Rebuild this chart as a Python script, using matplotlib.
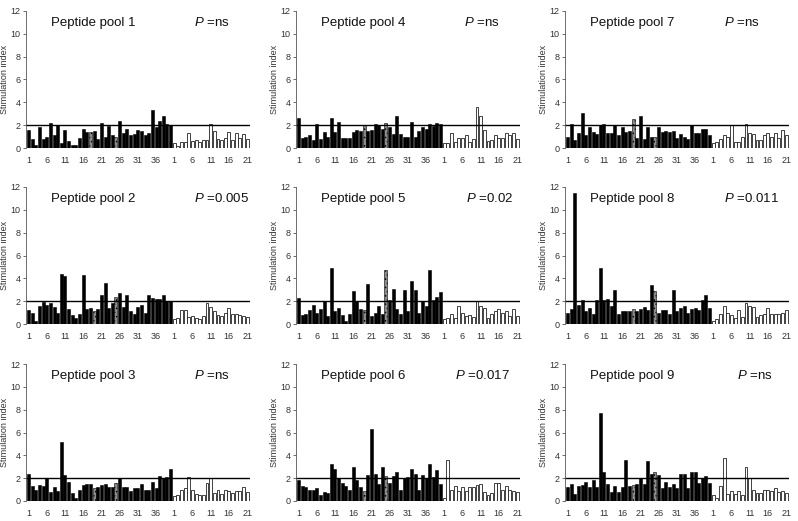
import matplotlib
matplotlib.use("Agg")
import matplotlib.pyplot as plt
import numpy as np

plt.rcParams['font.family'] = ['Liberation Sans', 'DejaVu Sans']
plt.rcParams['mathtext.fontset'] = 'custom'
plt.rcParams['mathtext.it'] = 'Liberation Sans:italic'
plt.rcParams['hatch.color'] = '#333333'
plt.rcParams['hatch.linewidth'] = 0.6

titles = ["Peptide pool 1", "Peptide pool 2", "Peptide pool 3",
          "Peptide pool 4", "Peptide pool 5", "Peptide pool 6",
          "Peptide pool 7", "Peptide pool 8", "Peptide pool 9"]
pvalues = ["ns", "0.005", "ns", "ns", "0.02", "0.017", "ns", "0.011", "ns"]
p_xpos = [0.75, 0.75, 0.75, 0.75, 0.76, 0.71, 0.71, 0.71, 0.77]

pool1_black = [1.6, 0.8, 0.3, 1.8, 0.8, 1.0, 2.2, 1.1, 2.0, 0.4, 1.6, 0.6, 0.3, 0.3, 0.9, 1.7, 1.4, 1.4, 1.5, 0.8,
               2.2, 1.0, 1.9, 1.1, 1.0, 2.4, 1.3, 1.7, 1.1, 1.2, 1.6, 1.5, 1.1, 1.3, 3.3, 1.8, 2.4, 2.8, 2.1, 2.0]
pool1_white = [0.4, 0.2, 0.5, 0.5, 1.3, 0.6, 0.7, 0.5, 0.7, 0.7, 2.1, 1.5, 0.8, 0.7, 0.9, 1.4, 0.7, 1.3, 0.9, 1.2, 0.8]
pool1_grey = [18, 25]

pool2_black = [1.2, 1.0, 0.3, 1.6, 1.9, 1.7, 1.8, 1.5, 1.0, 4.4, 4.2, 1.3, 0.8, 0.5, 0.9, 4.3, 1.3, 1.4, 1.1, 1.3,
               2.5, 3.6, 1.4, 1.8, 2.4, 2.7, 1.5, 2.5, 1.1, 0.9, 1.5, 1.7, 1.0, 2.5, 2.3, 2.2, 2.2, 2.5, 2.0, 2.0]
pool2_white = [0.4, 0.5, 1.2, 1.2, 0.6, 0.7, 0.5, 0.4, 0.7, 1.8, 1.5, 1.1, 0.8, 0.7, 1.0, 1.4, 0.9, 0.9, 0.8, 0.7, 0.6]
pool2_grey = [19, 25]

pool3_black = [2.4, 1.3, 1.0, 1.4, 1.3, 2.0, 0.8, 1.2, 0.9, 5.2, 2.3, 1.7, 0.7, 0.3, 1.0, 1.4, 1.5, 1.5, 1.1, 1.2,
               1.4, 1.5, 1.2, 1.2, 1.6, 2.0, 1.2, 1.2, 0.9, 1.1, 1.1, 1.5, 1.0, 1.0, 1.7, 1.1, 2.2, 2.0, 2.1, 2.8]
pool3_white = [0.4, 0.5, 1.0, 1.1, 2.1, 1.0, 0.6, 0.5, 0.5, 1.6, 2.0, 0.7, 1.0, 0.6, 1.0, 0.9, 0.7, 0.9, 0.9, 1.2, 0.8]
pool3_grey = [19, 25]

pool4_black = [2.6, 0.9, 1.0, 1.1, 0.7, 2.1, 0.8, 1.4, 1.0, 2.6, 1.4, 2.3, 0.9, 0.9, 0.9, 1.4, 1.6, 1.5, 2.0, 1.5,
               1.6, 2.1, 2.0, 1.7, 2.2, 1.8, 1.2, 2.8, 1.2, 1.0, 1.0, 2.3, 1.0, 1.5, 1.8, 1.7, 2.1, 1.9, 2.2, 2.1]
pool4_white = [0.4, 0.4, 1.3, 0.5, 0.9, 0.9, 1.1, 0.5, 0.8, 3.6, 2.8, 1.6, 0.6, 0.7, 1.1, 0.9, 0.9, 1.3, 1.1, 1.3, 0.8]
pool4_grey = [19, 25]

pool5_black = [2.3, 0.8, 0.9, 1.2, 1.7, 1.0, 1.3, 2.0, 0.7, 4.9, 1.1, 1.4, 0.8, 0.3, 0.9, 2.9, 2.0, 1.3, 1.2, 3.5,
               0.7, 1.0, 1.6, 0.9, 4.7, 2.1, 3.1, 1.3, 0.9, 3.0, 1.1, 3.8, 3.0, 1.0, 2.0, 1.6, 4.7, 2.1, 2.4, 2.8]
pool5_white = [0.4, 0.5, 0.9, 0.5, 1.6, 1.0, 0.7, 0.8, 0.6, 2.0, 1.6, 1.4, 0.5, 0.9, 1.1, 1.3, 1.0, 1.1, 0.7, 1.3, 0.7]
pool5_grey = [19, 25]

pool6_black = [1.8, 1.3, 1.2, 1.0, 1.0, 1.1, 0.5, 0.8, 0.7, 3.2, 2.8, 2.0, 1.6, 1.3, 1.0, 3.0, 1.8, 1.2, 0.9, 2.3,
               6.3, 2.4, 1.5, 3.0, 2.2, 1.6, 2.2, 2.5, 1.0, 2.0, 2.1, 2.8, 2.4, 1.0, 2.3, 2.0, 3.2, 2.1, 2.7, 1.5]
pool6_white = [0.3, 3.6, 1.0, 1.3, 0.9, 1.2, 0.9, 1.2, 1.2, 1.4, 1.5, 0.8, 0.5, 0.7, 1.6, 1.6, 1.0, 1.3, 1.0, 0.9, 0.8]
pool6_grey = [19, 25]

pool7_black = [1.0, 2.1, 0.7, 1.3, 3.1, 1.1, 1.8, 1.4, 1.2, 2.0, 2.1, 1.3, 1.3, 2.0, 1.1, 1.8, 1.4, 1.5, 2.5, 0.9,
               2.8, 0.8, 1.8, 1.0, 1.0, 1.8, 1.4, 1.5, 1.4, 1.5, 0.9, 1.2, 1.0, 0.8, 2.0, 1.3, 1.3, 1.7, 1.7, 1.1]
pool7_white = [0.4, 0.5, 0.8, 1.1, 1.0, 2.0, 0.5, 0.5, 1.0, 2.1, 1.3, 1.2, 0.7, 0.7, 1.1, 1.3, 1.0, 1.3, 0.9, 1.6, 1.1]
pool7_grey = [19, 25]

pool8_black = [1.0, 1.3, 11.5, 1.7, 2.1, 1.1, 1.4, 0.9, 2.1, 4.9, 2.1, 2.2, 1.6, 3.0, 0.9, 1.1, 1.1, 1.1, 1.3, 1.1,
               1.3, 1.5, 1.2, 3.4, 2.9, 1.0, 1.2, 1.2, 0.9, 3.0, 1.1, 1.4, 1.6, 1.0, 1.3, 1.4, 1.2, 2.1, 2.5, 1.4]
pool8_white = [0.3, 0.4, 0.9, 1.6, 1.0, 0.8, 0.5, 1.2, 0.6, 1.8, 1.6, 1.5, 0.6, 0.8, 0.9, 1.4, 0.9, 0.9, 0.9, 1.0, 1.2]
pool8_grey = [19, 25]

pool9_black = [1.2, 1.5, 0.6, 1.3, 1.4, 1.7, 1.2, 1.8, 1.2, 7.7, 2.5, 1.5, 0.8, 1.3, 0.8, 1.2, 3.6, 1.3, 1.4, 1.5,
               2.0, 1.5, 3.5, 2.4, 2.5, 2.3, 1.1, 1.7, 1.2, 1.5, 1.1, 2.4, 2.4, 1.1, 2.5, 2.5, 1.6, 2.0, 2.2, 1.6]
pool9_white = [0.5, 0.3, 1.3, 3.8, 0.6, 0.9, 0.6, 0.9, 0.5, 3.0, 2.0, 1.0, 0.7, 0.7, 1.0, 1.0, 0.9, 1.1, 0.8, 0.9, 0.7]
pool9_grey = [19, 25]

blacks = [pool1_black, pool2_black, pool3_black, pool4_black, pool5_black,
          pool6_black, pool7_black, pool8_black, pool9_black]
whites = [pool1_white, pool2_white, pool3_white, pool4_white, pool5_white,
          pool6_white, pool7_white, pool8_white, pool9_white]
greys = [pool1_grey, pool2_grey, pool3_grey, pool4_grey, pool5_grey,
         pool6_grey, pool7_grey, pool8_grey, pool9_grey]

threshold = 2
xtick_labels = [1, 6, 11, 16, 21, 26, 31, 36, 1, 6, 11, 16, 21]

fig = plt.figure(figsize=(7.98, 5.21), dpi=100)

col_left = [26, 296, 565]
row_top = [11, 187, 364]
ax_w = 224
ax_h = 137
W, H = 798, 521

tick_color = '#333333'
for k in range(9):
    col = k // 3
    row = k % 3
    l = col_left[col] / W
    b = 1 - (row_top[row] + ax_h) / H
    ax = fig.add_axes([l, b, ax_w / W, ax_h / H])

    blk = np.array(blacks[k])
    wht = np.array(whites[k])
    nb = len(blk)
    xb = np.arange(1, nb + 1)
    xw = np.arange(nb + 1, nb + len(wht) + 1)

    colors = ['#8c8c8c' if (i + 1) in greys[k] else 'black' for i in range(nb)]
    hatches = ['....' if (i + 1) in greys[k] else None for i in range(nb)]
    bars = ax.bar(xb, blk, width=0.82, color=colors, edgecolor='black', linewidth=0.4)
    for bar, h in zip(bars, hatches):
        if h:
            bar.set_hatch(h)
    ax.bar(xw, wht, width=0.78, color='white', edgecolor='#222222', linewidth=0.6)

    ax.axhline(threshold, color='black', linewidth=1.0)

    ax.set_ylim(0, 12)
    ax.set_xlim(0.3, nb + len(wht) + 0.8)
    ax.set_yticks(range(0, 13, 2))
    pos = list(range(1, 37, 5)) + list(range(nb + 1, nb + 22, 5))
    ax.set_xticks(pos)
    ax.set_xticklabels([str(v) for v in xtick_labels])
    ax.tick_params(axis='x', length=0, labelsize=6.5, colors=tick_color, pad=6)
    ax.tick_params(axis='y', length=2.5, width=0.6, labelsize=6.5, colors=tick_color, pad=1.5)
    ax.tick_params(axis='y', color='#555555')
    for s in ['top', 'right', 'bottom']:
        ax.spines[s].set_visible(False)
    ax.spines['left'].set_color('#555555')
    ax.spines['left'].set_linewidth(0.6)
    ax.set_ylabel('Stimulation index', fontsize=6.5, color=tick_color, labelpad=1)

    ax.text(0.11, 0.915, titles[k], transform=ax.transAxes, fontsize=9.5,
            ha='left', va='center', color='#111111')
    ax.text(p_xpos[k], 0.915, r'$\mathit{P}$ =' + pvalues[k], transform=ax.transAxes,
            fontsize=9.5, ha='left', va='center', color='#111111')

fig.savefig('out.png', dpi=100)
